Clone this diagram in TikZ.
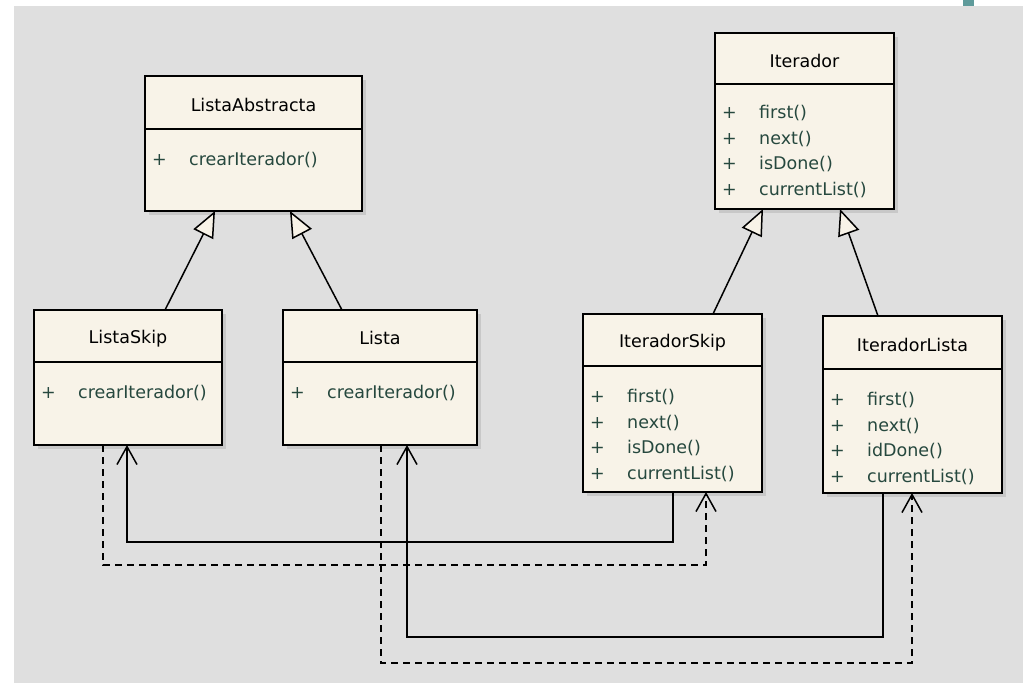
\documentclass[tikz,border=0pt]{standalone}
\usepackage{fontspec}
\setmainfont{DejaVu Sans}
\usetikzlibrary{arrows.meta,positioning,shadows}

\definecolor{bggray}{RGB}{223,223,223}
\definecolor{boxfill}{RGB}{248,243,232}
\definecolor{optext}{RGB}{38,72,62}
\definecolor{tabteal}{RGB}{95,155,155}
\definecolor{shadowgray}{RGB}{200,200,200}

% one operation line: "+" then the name
\newcommand{\op}[1]{\makebox[37pt][l]{+}#1}

\begin{document}
\begin{tikzpicture}[x=1pt, y=-1pt,
  every node/.style = {font=\fontsize{17.5}{25.5}\selectfont},
  head/.style = {shape=rectangle, draw, line width=1.5pt, fill=boxfill,
    anchor=north west, inner sep=0pt, outer sep=0pt, text height=18pt,
    drop shadow={shadow xshift=4pt, shadow yshift=-4pt,
      fill=shadowgray, opacity=1}},
  body/.style = {head, below=0pt of #1},
  ops/.style = {anchor=north west, align=left, inner sep=0pt, text=optext},
  isa/.style = {line width=1.5pt,
    -{Triangle[length=26pt, width=22pt, fill=boxfill]}},
  uses/.style = {line width=1.5pt, -{Straight Barb[length=18pt, width=20pt]}},
  usesdash/.style = {uses, dash pattern=on 7pt off 5pt}]

  % background
  \fill[white] (0,0) rectangle (1023,683);
  \fill[bggray] (14,6) rectangle (1023,683);
  \fill[tabteal] (963,0) rectangle (974,6);
  \useasboundingbox (0,0) rectangle (1023,683);

  % classes
  \node[head, minimum width=217pt, minimum height=53pt] (absH) at (145,76) {ListaAbstracta};
  \node[body=absH, minimum width=217pt, minimum height=82pt] (absB) {};
  \node[ops] (absOps) at ([xshift=7pt, yshift=-23pt]absB.north west) {\op{crearIterador()}};

  \node[head, minimum width=179pt, minimum height=51pt] (iterH) at (715,33) {Iterador};
  \node[body=iterH, minimum width=179pt, minimum height=125pt] (iterB) {};
  \node[ops] (iterOps) at ([xshift=7pt, yshift=-21pt]iterB.north west)
    {\op{first()}\\ \op{next()}\\ \op{isDone()}\\ \op{currentList()}};

  \node[head, minimum width=188pt, minimum height=52pt] (skipH) at (34,310) {ListaSkip};
  \node[body=skipH, minimum width=188pt, minimum height=83pt] (skipB) {};
  \node[ops] (skipOps) at ([xshift=7pt, yshift=-23pt]skipB.north west) {\op{crearIterador()}};

  \node[head, minimum width=194pt, minimum height=52pt] (listaH) at (283,310) {Lista};
  \node[body=listaH, minimum width=194pt, minimum height=83pt] (listaB) {};
  \node[ops] (listaOps) at ([xshift=7pt, yshift=-23pt]listaB.north west) {\op{crearIterador()}};

  \node[head, minimum width=179pt, minimum height=52pt] (itSkipH) at (583,314) {IteradorSkip};
  \node[body=itSkipH, minimum width=179pt, minimum height=126pt] (itSkipB) {};
  \node[ops] (itSkipOps) at ([xshift=7pt, yshift=-23pt]itSkipB.north west)
    {\op{first()}\\ \op{next()}\\ \op{isDone()}\\ \op{currentList()}};

  \node[head, minimum width=179pt, minimum height=53pt] (itListaH) at (823,316) {IteradorLista};
  \node[body=itListaH, minimum width=179pt, minimum height=124pt] (itListaB) {};
  \node[ops] (itListaOps) at ([xshift=7pt, yshift=-23pt]itListaB.north west)
    {\op{first()}\\ \op{next()}\\ \op{idDone()}\\ \op{currentList()}};

  % generalisation
  \draw[isa] ([xshift=131pt]skipH.north west) -- ([xshift=70pt]absB.south west);
  \draw[isa] ([xshift=59pt]listaH.north west) -- ([xshift=145pt]absB.south west);
  \draw[isa] ([xshift=130pt]itSkipH.north west) -- ([xshift=48pt]iterB.south west);
  \draw[isa] ([xshift=55pt]itListaH.north west) -- ([xshift=125pt]iterB.south west);

  % associations
  \draw[uses] ([xshift=90pt]itSkipB.south west) -- ++(0,50) -| ([xshift=93pt]skipB.south west);
  \draw[usesdash] ([xshift=69pt]skipB.south west) -- ++(0,120) -| ([xshift=123pt]itSkipB.south west);
  \draw[uses] ([xshift=60pt]itListaB.south west) -- ++(0,144) -| ([xshift=124pt]listaB.south west);
  \draw[usesdash] ([xshift=98pt]listaB.south west) -- ++(0,218) -| ([xshift=89pt]itListaB.south west);
\end{tikzpicture}
\end{document}
